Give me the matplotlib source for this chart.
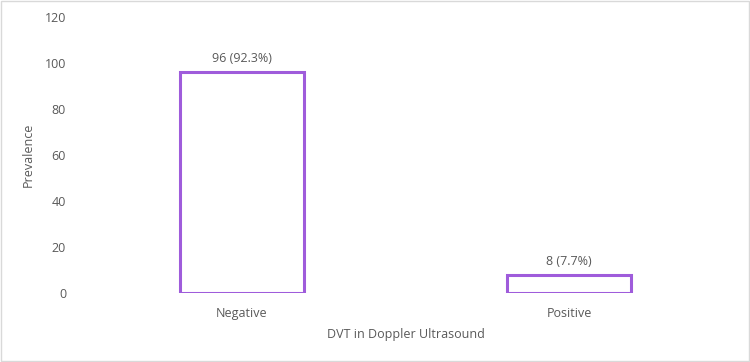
import matplotlib.pyplot as plt

categories = ['Negative', 'Positive']
counts = [96, 8]
labels = ['96 (92.3%)', '8 (7.7%)']

plt.rcParams['font.family'] = ['Open Sans', 'DejaVu Sans']
grey = '#595959'
purple = '#9F5CDB'

fig = plt.figure(figsize=(7.5, 3.62), dpi=100)
ax = fig.add_axes([0.1047, 0.1906, 0.872, 0.7624])

bars = ax.bar(categories, counts, width=0.38, facecolor='white',
              edgecolor=purple, linewidth=2.2)
for b, lab in zip(bars, labels):
    ax.annotate(lab, (b.get_x() + b.get_width() / 2, b.get_height()),
                xytext=(0, 5), textcoords='offset points',
                ha='center', va='bottom', fontsize=9, color=grey)

ax.set_xlim(-0.5, 1.5)
ax.set_ylim(0, 120)
ax.set_yticks(range(0, 121, 20))
for s in ax.spines.values():
    s.set_visible(False)
ax.tick_params(length=0, labelsize=9, colors=grey)
ax.tick_params(axis='y', pad=9)
ax.tick_params(axis='x', pad=10)
ax.set_xlabel('DVT in Doppler Ultrasound', fontsize=9, color=grey, labelpad=6)
ax.set_ylabel('Prevalence', fontsize=9, color=grey, labelpad=7)

fig.patches.append(plt.Rectangle((0.001, 0.002), 0.997, 0.995, transform=fig.transFigure,
                                 fill=False, edgecolor='#D9D9D9', linewidth=1))
fig.savefig('out.png', dpi=100)
